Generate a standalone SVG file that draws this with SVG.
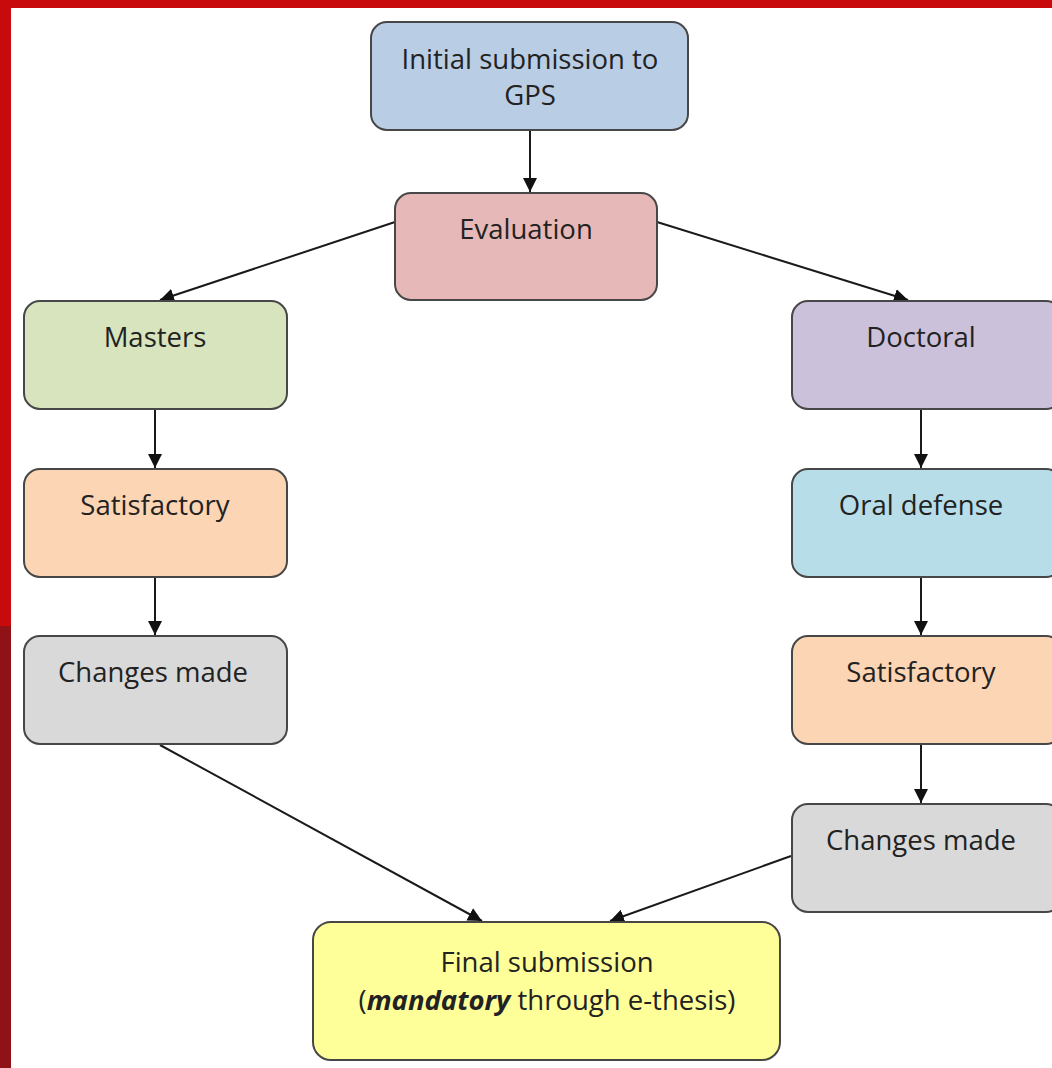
<svg xmlns="http://www.w3.org/2000/svg" width="1052" height="1068" viewBox="0 0 1052 1068">
<style>
.box{stroke:#474747;stroke-width:2}
.t{font-family:"Open Sans","Liberation Sans",sans-serif;font-size:27.5px;fill:#222222;text-anchor:middle}
.c{stroke:#1a1a1a;stroke-width:2;fill:none}
</style>
<defs>
<marker id="ah2" viewBox="0 0 10 10" refX="10" refY="5" markerWidth="14" markerHeight="14" orient="auto" markerUnits="userSpaceOnUse">
<path d="M0,0 L10,5 L0,10 z" fill="#111"/>
</marker>
</defs>
<rect x="0" y="0" width="1052" height="1068" fill="#ffffff"/>
<rect x="0" y="0" width="1052" height="8" fill="#c80a0c"/>
<rect x="0" y="0" width="11" height="626" fill="#c80a0c"/>
<rect x="0" y="626" width="11" height="442" fill="#8e1216"/>

<g id="connectors" marker-end="url(#ah2)">
<line class="c" x1="530" y1="131" x2="530" y2="192" marker-end="url(#ah2)"/>
<line class="c" x1="395" y1="222" x2="160" y2="300" marker-end="url(#ah2)"/>
<line class="c" x1="657" y1="222" x2="908" y2="300" marker-end="url(#ah2)"/>
<line class="c" x1="155" y1="410" x2="155" y2="468" marker-end="url(#ah2)"/>
<line class="c" x1="155" y1="578" x2="155" y2="635" marker-end="url(#ah2)"/>
<line class="c" x1="921" y1="410" x2="921" y2="468" marker-end="url(#ah2)"/>
<line class="c" x1="921" y1="578" x2="921" y2="635" marker-end="url(#ah2)"/>
<line class="c" x1="921" y1="745" x2="921" y2="803" marker-end="url(#ah2)"/>
<line class="c" x1="160" y1="745" x2="482" y2="921" marker-end="url(#ah2)"/>
<line class="c" x1="791" y1="856" x2="610" y2="921" marker-end="url(#ah2)"/>
</g>

<g id="initial">
<rect class="box" x="371" y="22" width="317" height="108" rx="16" fill="#b9cde5"/>
<text class="t" x="530" y="69">Initial submission to</text>
<text class="t" x="530" y="105">GPS</text>
</g>
<g id="evaluation">
<rect class="box" x="395" y="193" width="262" height="107" rx="16" fill="#e6b9b8"/>
<text class="t" x="526" y="239">Evaluation</text>
</g>
<g id="masters">
<rect class="box" x="24" y="301" width="263" height="108" rx="16" fill="#d7e4bd"/>
<text class="t" x="155" y="347">Masters</text>
</g>
<g id="doctoral">
<rect class="box" x="792" y="301" width="270" height="108" rx="16" fill="#ccc1da"/>
<text class="t" x="921" y="347">Doctoral</text>
</g>
<g id="satisfactory-left">
<rect class="box" x="24" y="469" width="263" height="108" rx="16" fill="#fcd5b5"/>
<text class="t" x="155" y="515">Satisfactory</text>
</g>
<g id="oral-defense">
<rect class="box" x="792" y="469" width="270" height="108" rx="16" fill="#b7dee8"/>
<text class="t" x="921" y="515">Oral defense</text>
</g>
<g id="changes-left">
<rect class="box" x="24" y="636" width="263" height="108" rx="16" fill="#d9d9d9"/>
<text class="t" x="153" y="682">Changes made</text>
</g>
<g id="satisfactory-right">
<rect class="box" x="792" y="636" width="270" height="108" rx="16" fill="#fcd5b5"/>
<text class="t" x="921" y="682">Satisfactory</text>
</g>
<g id="changes-right">
<rect class="box" x="792" y="804" width="270" height="108" rx="16" fill="#d9d9d9"/>
<text class="t" x="921" y="850">Changes made</text>
</g>
<g id="final">
<rect class="box" x="313" y="922" width="467" height="138" rx="18" fill="#ffff99"/>
<text class="t" x="547" y="972">Final submission</text>
<text class="t" x="547" y="1010">(<tspan font-weight="bold" font-style="italic">mandatory</tspan> through e-thesis)</text>
</g>
</svg>
